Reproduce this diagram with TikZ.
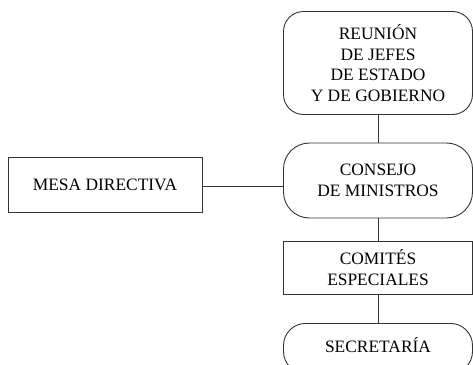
\documentclass[tikz,border=0pt]{standalone}
\usepackage{fontspec}
\setmainfont{Liberation Serif}
\begin{document}
\begin{tikzpicture}[x=1pt,y=-1pt,
  box/.style={draw=black!80,line width=0.9pt,align=center,inner sep=0pt,
    font=\fontsize{17.4}{20.5}\selectfont},
  conn/.style={draw=black!80,line width=0.9pt}]
\useasboundingbox (0,0) rectangle (473,364);
\node[box,rounded corners=20pt,minimum width=189pt,minimum height=103pt] (reunion) at (378,63)
  {REUNIÓN\\DE JEFES\\DE ESTADO\\Y DE GOBIERNO};
\node[box,rounded corners=26pt,minimum width=189pt,minimum height=75pt] (consejo) at (378,180.5)
  {CONSEJO\\DE MINISTROS};
\node[box,minimum width=194pt,minimum height=55pt] (mesa) at (105,184.5)
  {MESA DIRECTIVA};
\node[box,minimum width=189pt,minimum height=53pt] (comites) at (378,267.5)
  {COMITÉS\\ESPECIALES};
\node[box,rounded corners=22pt,minimum width=189pt,minimum height=50pt,anchor=north] (secretaria) at (378,323)
  {};
\node[font=\fontsize{17.4}{20.5}\selectfont] (sectext) at (378,345) {SECRETARÍA};
\draw[conn] (reunion.south) -- (consejo.north);
\draw[conn] (consejo.south) -- (comites.north);
\draw[conn] (comites.south) -- (secretaria.north);
\draw[conn] ([yshift=-2pt]mesa.east) -- ([yshift=-2pt]mesa.east -| consejo.west);
\end{tikzpicture}
\end{document}
